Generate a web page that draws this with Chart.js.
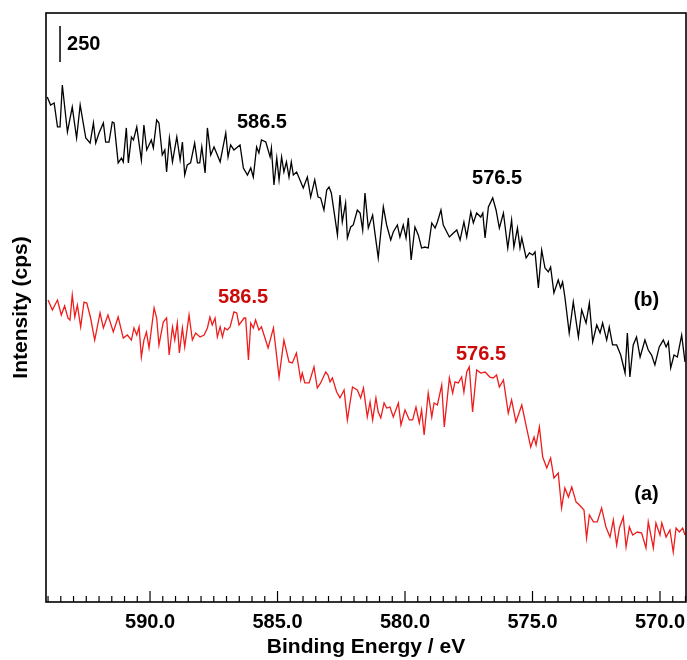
<!DOCTYPE html>
<html>
<head>
<meta charset="utf-8">
<script src="https://cdn.jsdelivr.net/npm/chart.js@4/dist/chart.umd.min.js"></script>
<style>
  html, body { margin: 0; padding: 0; background: #fff; }
  #wrap { width: 687px; height: 660px; }
</style>
</head>
<body>
<div id="wrap"><canvas id="xpsChart" width="687" height="660"></canvas></div>
<script>
// binding energy (eV) and intensity (cps)
const energyB = [594.03, 593.90, 593.76, 593.63, 593.53, 593.44, 593.24, 593.05, 592.88, 592.74,
  592.52, 592.35, 592.22, 592.13, 592.00, 591.83, 591.74, 591.61, 591.48, 591.41,
  591.25, 591.12, 591.05, 590.93, 590.85, 590.73, 590.65, 590.52, 590.34, 590.24,
  590.13, 589.95, 589.87, 589.74, 589.65, 589.52, 589.42, 589.35, 589.24, 589.12,
  588.95, 588.82, 588.73, 588.64, 588.54, 588.41, 588.25, 588.14, 588.05, 587.97,
  587.84, 587.75, 587.62, 587.49, 587.36, 587.25, 587.03, 586.94, 586.84, 586.71,
  586.47, 586.34, 586.18, 586.05, 585.95, 585.82, 585.73, 585.63, 585.46, 585.29,
  585.24, 585.14, 585.03, 584.94, 584.84, 584.75, 584.65, 584.55, 584.46, 584.38,
  584.25, 583.99, 583.83, 583.70, 583.54, 583.41, 583.31, 583.18, 583.07, 582.98,
  582.89, 582.65, 582.55, 582.46, 582.33, 582.26, 582.13, 582.03, 581.87, 581.76,
  581.66, 581.57, 581.44, 581.27, 581.18, 581.05, 580.85, 580.72, 580.56, 580.46,
  580.30, 580.20, 580.07, 579.96, 579.87, 579.76, 579.61, 579.48, 579.35, 579.22,
  579.09, 578.95, 578.82, 578.73, 578.59, 578.50, 578.26, 578.10, 577.97, 577.84,
  577.69, 577.58, 577.42, 577.32, 577.19, 577.03, 576.95, 576.86, 576.73, 576.56,
  576.43, 576.30, 576.14, 575.97, 575.82, 575.73, 575.59, 575.49, 575.42, 575.25,
  575.12, 574.99, 574.90, 574.77, 574.64, 574.51, 574.38, 574.29, 574.16, 573.99,
  573.90, 573.82, 573.73, 573.56, 573.40, 573.20, 573.07, 572.90, 572.77, 572.64,
  572.48, 572.35, 572.25, 572.09, 571.99, 571.86, 571.70, 571.54, 571.37, 571.28,
  571.18, 571.05, 570.92, 570.78, 570.59, 570.46, 570.33, 570.20, 570.03, 569.87,
  569.76, 569.67, 569.58, 569.45, 569.32, 569.15, 569.02];
const intensityB = [3507, 3451, 3465, 3299, 3299, 3590, 3264, 3437, 3222, 3451,
  3222, 3187, 3326, 3187, 3257, 3326, 3194, 3194, 3333, 3326,
  3049, 3083, 3056, 3292, 3049, 3229, 3208, 3299, 3069, 3312,
  3139, 3208, 3153, 3347, 3326, 3104, 3139, 2986, 3222, 3056,
  3229, 3069, 3194, 2965, 3035, 3049, 3187, 3049, 3049, 3160,
  2979, 3292, 3104, 3160, 3104, 3056, 3257, 3090, 3174, 3139,
  3174, 3014, 2965, 3014, 2951, 3160, 3118, 3208, 3194, 3090,
  3153, 2896, 3083, 2931, 3090, 2986, 3056, 2951, 3056, 2965,
  2986, 2875, 2951, 2812, 2931, 2812, 2806, 2722, 2861, 2882,
  2840, 2549, 2826, 2639, 2771, 2528, 2604, 2618, 2722, 2701,
  2583, 2840, 2597, 2687, 2562, 2389, 2743, 2618, 2514, 2569,
  2618, 2535, 2618, 2528, 2667, 2375, 2604, 2549, 2458, 2465,
  2458, 2632, 2597, 2639, 2722, 2618, 2535, 2562, 2583, 2514,
  2639, 2535, 2708, 2632, 2701, 2673, 2701, 2528, 2743, 2806,
  2722, 2597, 2701, 2458, 2653, 2465, 2597, 2458, 2528, 2389,
  2424, 2410, 2431, 2181, 2444, 2319, 2292, 2326, 2146, 2236,
  2181, 2222, 2118, 1868, 2083, 1840, 2028, 1937, 2076, 1806,
  1924, 1868, 1937, 1819, 1910, 1785, 1785, 1715, 1590, 1868,
  1562, 1785, 1840, 1701, 1819, 1750, 1715, 1646, 1771, 1819,
  1771, 1806, 1625, 1715, 1701, 1854, 1667];

const energyA = [594.00, 593.83, 593.63, 593.48, 593.35, 593.22, 593.14, 593.05, 592.95, 592.85,
  592.72, 592.59, 592.48, 592.33, 592.17, 591.96, 591.83, 591.65, 591.44, 591.25,
  591.05, 590.89, 590.73, 590.63, 590.52, 590.43, 590.34, 590.24, 590.14, 590.04,
  589.84, 589.74, 589.65, 589.48, 589.35, 589.25, 589.12, 589.03, 588.93, 588.85,
  588.73, 588.64, 588.47, 588.34, 588.21, 588.04, 587.88, 587.75, 587.65, 587.56,
  587.45, 587.36, 587.25, 587.16, 587.07, 586.97, 586.86, 586.71, 586.60, 586.51,
  586.31, 586.25, 586.14, 586.05, 585.95, 585.86, 585.73, 585.63, 585.53, 585.37,
  585.16, 584.94, 584.75, 584.55, 584.42, 584.26, 584.09, 584.03, 583.93, 583.76,
  583.57, 583.44, 583.31, 583.11, 583.02, 582.94, 582.85, 582.68, 582.55, 582.39,
  582.26, 582.06, 581.87, 581.74, 581.63, 581.48, 581.37, 581.27, 581.14, 581.05,
  580.95, 580.82, 580.72, 580.59, 580.46, 580.26, 580.16, 580.00, 579.83, 579.70,
  579.57, 579.44, 579.35, 579.25, 579.09, 578.95, 578.86, 578.73, 578.56, 578.46,
  578.26, 578.13, 578.04, 577.91, 577.78, 577.69, 577.58, 577.48, 577.35, 577.19,
  577.03, 576.86, 576.67, 576.54, 576.41, 576.30, 576.14, 575.95, 575.82, 575.65,
  575.42, 575.23, 575.07, 574.94, 574.86, 574.73, 574.60, 574.44, 574.29, 574.16,
  573.99, 573.86, 573.73, 573.59, 573.46, 573.29, 573.16, 572.98, 572.88, 572.77,
  572.61, 572.46, 572.29, 572.12, 571.96, 571.83, 571.70, 571.59, 571.44, 571.33,
  571.20, 571.07, 570.89, 570.72, 570.55, 570.46, 570.26, 570.16, 570.00, 569.93,
  569.76, 569.61, 569.48, 569.37, 569.24, 569.11, 569.02];
const intensityA = [2097, 2028, 2097, 1993, 2056, 1972, 1958, 2132, 1979, 2062,
  1910, 2083, 2076, 1972, 1819, 2007, 1903, 1993, 1875, 1979,
  1833, 1854, 1819, 1903, 1854, 1910, 1701, 1819, 1875, 1764,
  2042, 1972, 1785, 1944, 1972, 1715, 1910, 1819, 1937, 1729,
  1903, 1771, 1993, 1819, 1868, 1840, 1854, 1903, 1979, 1924,
  1972, 1840, 1910, 1840, 1903, 1889, 1910, 2014, 2007, 1924,
  1972, 1972, 1680, 1937, 1903, 1958, 1889, 1910, 1854, 1764,
  1903, 1562, 1819, 1667, 1660, 1729, 1542, 1590, 1521, 1521,
  1632, 1486, 1521, 1597, 1576, 1528, 1556, 1458, 1417, 1472,
  1264, 1493, 1472, 1417, 1486, 1285, 1389, 1264, 1417, 1319,
  1278, 1382, 1347, 1354, 1285, 1382, 1229, 1333, 1264, 1264,
  1354, 1243, 1333, 1160, 1451, 1285, 1382, 1368, 1507, 1215,
  1556, 1451, 1528, 1521, 1562, 1458, 1597, 1632, 1319, 1611,
  1590, 1597, 1562, 1556, 1576, 1493, 1542, 1312, 1403, 1250,
  1368, 1208, 1076, 1146, 1090, 1215, 1007, 931, 1000, 861,
  896, 653, 792, 729, 799, 694, 674, 639, 444, 604,
  556, 556, 653, 521, 451, 569, 396, 514, 590, 382,
  521, 465, 486, 479, 375, 556, 375, 549, 465, 549,
  451, 500, 347, 514, 486, 514, 465];

const xTickValues = [590, 585, 580, 575, 570];
const peakLabels = ['586.5', '576.5'];
const seriesLabels = ['(b)', '(a)'];
const scaleBarCps = 250;

const FONT = 'Liberation Sans, Arial, Helvetica, sans-serif';
const RED_LINE = '#ee1c1c';
const RED_TEXT = '#cc0a0a';

// where the text notes sit, in data units
const notes = [
  { text: peakLabels[0], x: 585.61, y: 3340, color: '#000' },
  { text: peakLabels[1], x: 576.39, y: 2951, color: '#000' },
  { text: seriesLabels[0], x: 570.53, y: 2104, color: '#000' },
  { text: peakLabels[0], x: 586.35, y: 2121, color: RED_TEXT },
  { text: peakLabels[1], x: 577.02, y: 1729, color: RED_TEXT },
  { text: seriesLabels[1], x: 570.53, y: 753, color: '#000' }
];
const scaleBar = { x: 593.53, y: 3750 };

const toPoints = (xs, ys) => xs.map((x, i) => ({ x: x, y: ys[i] }));

const decorations = {
  id: 'decorations',
  afterDatasetsDraw(chart) {
    const { ctx, chartArea: a, scales: { x, y } } = chart;
    ctx.save();
    ctx.strokeStyle = '#000';

    // inward ticks on the energy axis
    ctx.lineWidth = 1.2;
    for (let v = Math.ceil(x.min * 2) / 2; v <= x.max; v += 0.5) {
      const px = x.getPixelForValue(v);
      const len = v % 5 === 0 ? 11 : 6;
      ctx.beginPath();
      ctx.moveTo(px, a.bottom);
      ctx.lineTo(px, a.bottom - len);
      ctx.stroke();
    }

    // frame
    ctx.lineWidth = 1.6;
    ctx.strokeRect(a.left, a.top, a.right - a.left, a.bottom - a.top);

    // 250 cps scale bar
    const bx = x.getPixelForValue(scaleBar.x);
    const b0 = y.getPixelForValue(scaleBar.y);
    const b1 = y.getPixelForValue(scaleBar.y + scaleBarCps);
    ctx.lineWidth = 1.5;
    ctx.beginPath();
    ctx.moveTo(bx, b0);
    ctx.lineTo(bx, b1);
    ctx.stroke();
    ctx.font = 'bold 20px ' + FONT;
    ctx.fillStyle = '#000';
    ctx.textAlign = 'left';
    ctx.textBaseline = 'middle';
    ctx.fillText(String(scaleBarCps), bx + 7, (b0 + b1) / 2 + 1);

    // peak and curve labels
    ctx.textAlign = 'center';
    notes.forEach(n => {
      ctx.fillStyle = n.color;
      ctx.fillText(n.text, x.getPixelForValue(n.x), y.getPixelForValue(n.y) + 1);
    });
    ctx.restore();
  }
};

const ctx = document.getElementById('xpsChart').getContext('2d');
const xpsChart = new Chart(ctx, {
  type: 'line',
  data: {
    datasets: [
      {
        label: '(b)',
        data: toPoints(energyB, intensityB),
        borderColor: '#000',
        borderWidth: 1.3,
        pointRadius: 0,
        tension: 0
      },
      {
        label: '(a)',
        data: toPoints(energyA, intensityA),
        borderColor: RED_LINE,
        borderWidth: 1.3,
        pointRadius: 0,
        tension: 0
      }
    ]
  },
  options: {
    responsive: false,
    animation: false,
    layout: { padding: { top: 13, right: 1, left: 0, bottom: 0 } },
    plugins: {
      legend: { display: false },
      tooltip: { enabled: false }
    },
    scales: {
      x: {
        type: 'linear',
        reverse: true,
        min: 568.98,
        max: 594.08,
        grid: { display: false, drawTicks: false },
        border: { display: false },
        afterBuildTicks: (scale) => {
          scale.ticks = xTickValues.map(v => ({ value: v }));
        },
        afterFit: (scale) => {
          scale.height = 58;
          scale.paddingLeft = 0;
          scale.paddingRight = 0;
        },
        ticks: {
          autoSkip: false,
          maxRotation: 0,
          padding: 8,
          color: '#000',
          font: { family: FONT, size: 20, weight: 'bold' },
          callback: (v) => Number(v).toFixed(1)
        },
        title: {
          display: true,
          text: 'Binding Energy / eV',
          color: '#000',
          padding: { top: 0, bottom: 0 },
          font: { family: FONT, size: 21, weight: 'bold' }
        }
      },
      y: {
        type: 'linear',
        min: 0,
        max: 4090,
        grid: { display: false, drawTicks: false },
        border: { display: false },
        ticks: { display: false },
        afterFit: (scale) => {
          scale.width = 46;
          scale.paddingTop = 0;
          scale.paddingBottom = 0;
        },
        title: {
          display: true,
          text: 'Intensity (cps)',
          color: '#000',
          padding: { top: 9, bottom: 0 },
          font: { family: FONT, size: 21, weight: 'bold' }
        }
      }
    }
  },
  plugins: [decorations]
});
</script>
</body>
</html>
